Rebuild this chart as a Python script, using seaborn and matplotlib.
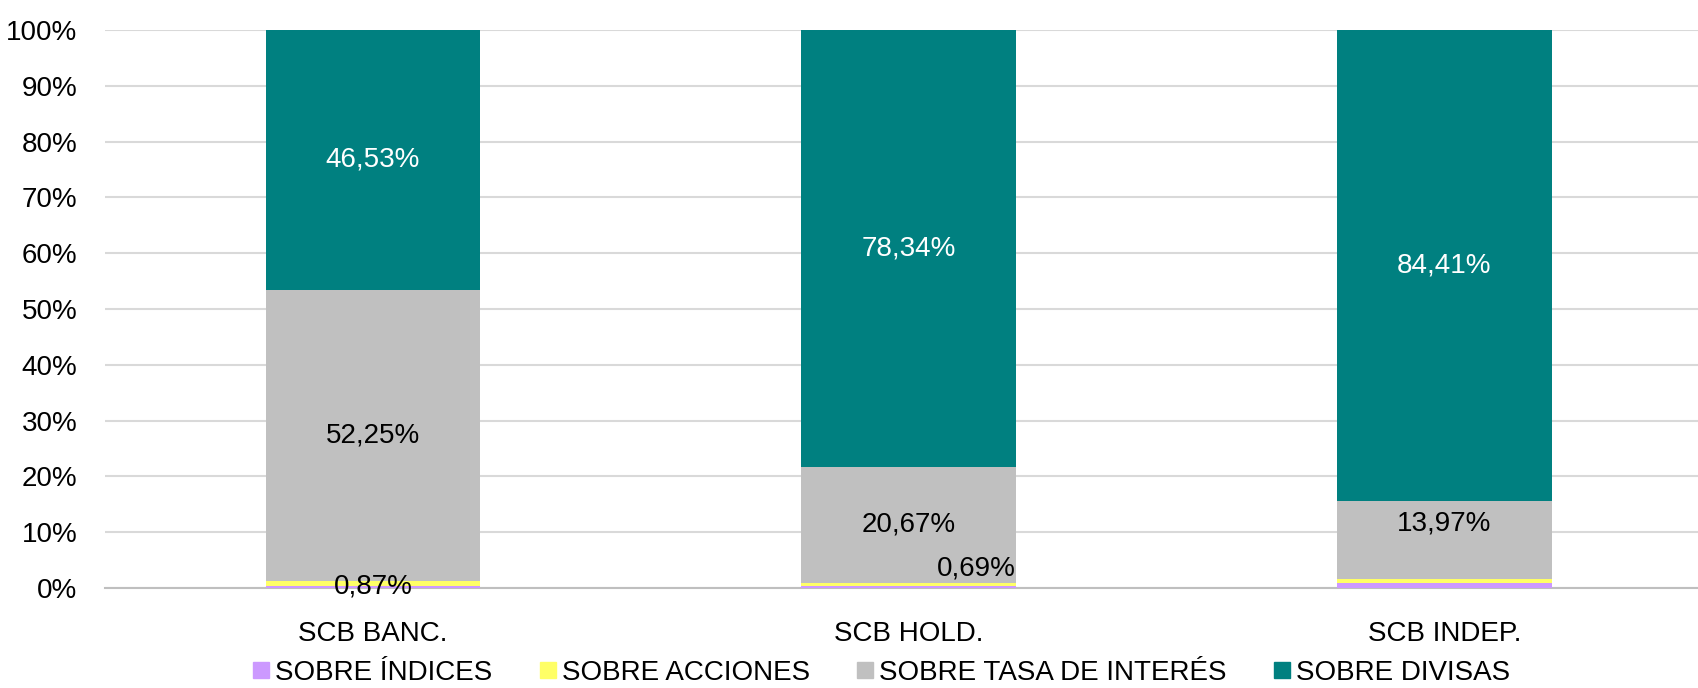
import matplotlib
matplotlib.use("Agg")
import matplotlib.pyplot as plt
from matplotlib.lines import Line2D
import seaborn as sns
import numpy as np

# --- datos ---
categorias = ["SCB BANC.", "SCB HOLD.", "SCB INDEP."]
series = ["SOBRE ÍNDICES", "SOBRE ACCIONES", "SOBRE TASA DE INTERÉS", "SOBRE DIVISAS"]
indices = [0.35, 0.30, 0.90]
acciones = [0.87, 0.69, 0.72]
tasa = [52.25, 20.67, 13.97]
divisas = [46.53, 78.34, 84.41]
colores = ["#CC99FF", "#FFFF66", "#C0C0C0", "#008080"]
yticks = [0, 10, 20, 30, 40, 50, 60, 70, 80, 90, 100]

sns.set_style("white")
plt.rcParams["font.family"] = ["Liberation Sans", "DejaVu Sans"]
plt.rcParams["text.color"] = "black"
plt.rcParams["xtick.color"] = "black"
plt.rcParams["ytick.color"] = "black"
FS = 20

fig = plt.figure(figsize=(16.99, 6.88), dpi=100)
ax = fig.add_axes([0.0618, 0.1453, 0.946, 0.811])

valores = [indices, acciones, tasa, divisas]
acum = np.cumsum(np.array(valores), axis=0)

# apilado: dibujar del total hacia abajo para que se tapen
for k in range(len(series) - 1, -1, -1):
    sns.barplot(x=categorias, y=acum[k], color=colores[k], width=0.4,
                saturation=1, ax=ax, zorder=3, linewidth=0, edgecolor="none")

ax.set_ylim(0, 100)
ax.set_xlim(-0.5, 2.5)
ax.set_yticks(yticks)
ax.set_yticklabels([f"{t}%" for t in yticks], fontsize=FS)
ax.tick_params(axis="x", labelsize=FS, length=0, pad=24, labelcolor="black")
ax.tick_params(axis="y", length=0, pad=20, labelcolor="black")
ax.set_xticks([-0.5, 0.5, 1.5], minor=True)
ax.tick_params(axis="x", which="minor", length=12, color="#BFBFBF", width=1.5)
ax.grid(axis="y", color="#D9D9D9", lw=1.5, zorder=0)
ax.set_axisbelow(True)
for s in ["top", "right", "left"]:
    ax.spines[s].set_visible(False)
ax.spines["bottom"].set_color("#BFBFBF")
ax.spines["bottom"].set_linewidth(1.5)
ax.set_xlabel("")
ax.set_ylabel("")

def fmt(v):
    return f"{v:.2f}".replace(".", ",") + "%"

base_tasa = acum[1]
for i in range(3):
    ax.text(i, acum[2][i] + divisas[i] / 2, fmt(divisas[i]), ha="center", va="center",
            fontsize=FS, color="white", zorder=5)
ax.text(0, base_tasa[0] + tasa[0] / 2, fmt(tasa[0]), ha="center", va="center", fontsize=FS, zorder=5)
ax.text(1, base_tasa[1] + tasa[1] / 2, fmt(tasa[1]), ha="center", va="center", fontsize=FS, zorder=5)
ax.annotate(fmt(tasa[2]), (2, acum[2][2]), xytext=(0, -16), textcoords="offset points",
            ha="center", va="center", fontsize=FS, zorder=5)
ax.annotate(fmt(acciones[0]), (0, acum[0][0]), xytext=(0, 0), textcoords="offset points",
            ha="center", va="center", fontsize=FS, zorder=5)
ax.annotate(fmt(acciones[1]), (1.2, acum[1][1]), xytext=(0, 10), textcoords="offset points",
            ha="right", va="center", fontsize=FS, zorder=5)

handles = [Line2D([], [], marker="s", color="none", markerfacecolor=c, markeredgecolor=c,
                  markersize=12) for c in colores]
fig.legend(handles, series, loc="center", bbox_to_anchor=(0.518, 0.022), ncol=4,
           frameon=False, fontsize=FS, handletextpad=0.1, columnspacing=1.6, handlelength=0.8,
           labelcolor="black")

fig.savefig("out.png", dpi=100)
